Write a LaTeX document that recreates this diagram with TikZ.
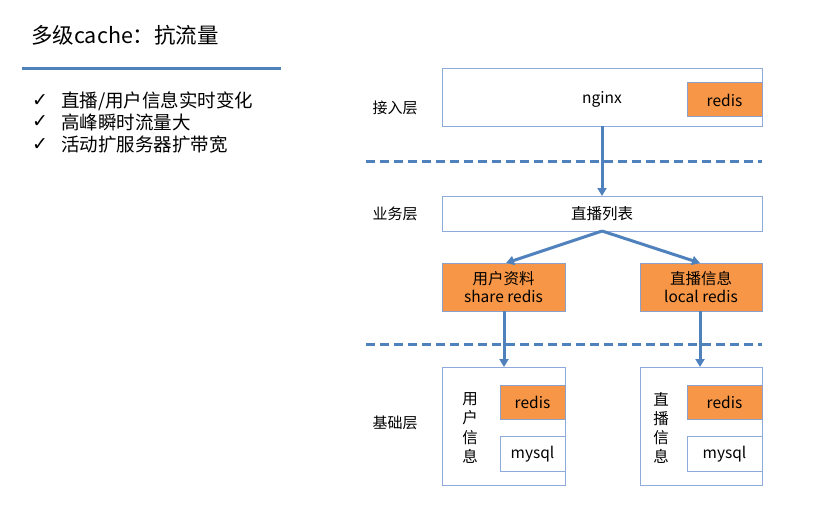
\documentclass[tikz,border=0pt]{standalone}
\usepackage{fontspec}
\setmainfont{Noto Sans CJK SC}
\newfontfamily\symfont{DejaVu Sans}
\usetikzlibrary{arrows.meta}
\definecolor{lineblue}{HTML}{4F81BD}
\definecolor{boxblue}{HTML}{8EAADB}
\definecolor{orng}{HTML}{F79646}
\begin{document}
\begin{tikzpicture}[x=1pt,y=-1pt,
  wbox/.style={draw=boxblue,line width=1pt,fill=white},
  obox/.style={draw=boxblue!80!gray,line width=1pt,fill=orng},
  txt/.style={font=\fontsize{15.5}{18}\selectfont,inner sep=0pt},
  lbl/.style={font=\fontsize{15}{18}\selectfont,inner sep=0pt},
  arr/.style={draw=lineblue,line width=3pt,-{Triangle[length=8pt,width=9pt]}},
  dline/.style={draw=lineblue,line width=3pt,dash pattern=on 9pt off 5pt}]
\useasboundingbox (0,0) rectangle (813,516);
% title
\node[anchor=west,inner sep=0pt,font=\fontsize{21.5}{24}\selectfont] (title) at (31,35) {多级cache：抗流量};
\draw[lineblue,line width=3pt] (22,69) -- (281,69);
\node[anchor=west,inner sep=0pt,font=\fontsize{18.5}{20}\selectfont] (l1) at (61,101) {直播/用户信息实时变化};
\node[anchor=west,inner sep=0pt,font=\fontsize{18.5}{20}\selectfont] (l2) at (61,122) {高峰瞬时流量大};
\node[anchor=west,inner sep=0pt,font=\fontsize{18.5}{20}\selectfont] (l3) at (61,145) {活动扩服务器扩带宽};
\foreach \y/\n in {101/c1,122/c2,145/c3}
  \node[inner sep=0pt,font=\symfont\fontsize{19}{20}\selectfont] (\n) at (40,\y) {✓};
% layer labels
\node[lbl] (L1) at (395,108) {接入层};
\node[lbl] (L2) at (395,214) {业务层};
\node[lbl] (L3) at (395,423) {基础层};
% dashed lines
\draw[dline] (366,161) -- (762,161);
\draw[dline] (366,344) -- (762,344);
% nginx
\draw[wbox] (442,69) rectangle (762,126);
\coordinate (ngb) at (602,126);
\node[txt] (nginx) at (602,99) {nginx};
\draw[obox] (687,83) rectangle (762,117);
\node[txt] (r0) at (724.5,100) {redis};
% list
\draw[wbox] (442,196) rectangle (762,231);
\coordinate (lt) at (602,196);
\coordinate (lb) at (602,231);
\node[txt] (list) at (602,214) {直播列表};
% middle
\draw[obox] (442,263) rectangle (565,311);
\node[txt,align=center,font=\fontsize{15.5}{17.5}\selectfont] (ur) at (503.5,287) {用户资料\\share redis};
\draw[obox] (640,263) rectangle (762,311);
\node[txt,align=center,font=\fontsize{15.5}{17.5}\selectfont] (lr) at (701,287) {直播信息\\local redis};
\coordinate (urt) at (506,263);
\coordinate (lrt) at (700,263);
\coordinate (urb) at (504,311);
\coordinate (lrb) at (700,311);
% bottom
\draw[wbox] (442,367) rectangle (565,485);
\draw[wbox] (640,367) rectangle (762,485);
\coordinate (bl) at (504,367);
\coordinate (br) at (700,367);
\draw[obox] (500,385) rectangle (565,419);
\node[txt] (r1) at (532.5,402) {redis};
\draw[wbox] (500,436) rectangle (565,471);
\node[txt] (m1) at (532.5,454) {mysql};
\draw[obox] (687,385) rectangle (762,419);
\node[txt] (r2) at (724.5,402) {redis};
\draw[wbox] (687,436) rectangle (762,471);
\node[txt] (m2) at (724.5,454) {mysql};
\node[txt,align=center,font=\fontsize{15.5}{19.3}\selectfont] (v1) at (470,428) {用\\户\\信\\息};
\node[txt,align=center,font=\fontsize{15.5}{19.3}\selectfont] (v2) at (661,428) {直\\播\\信\\息};
% arrows
\draw[arr] (ngb) -- (lt);
\draw[arr] (lb) -- (urt);
\draw[arr] (lb) -- (lrt);
\draw[arr] (urb) -- (bl);
\draw[arr] (lrb) -- (br);
\end{tikzpicture}
\end{document}
